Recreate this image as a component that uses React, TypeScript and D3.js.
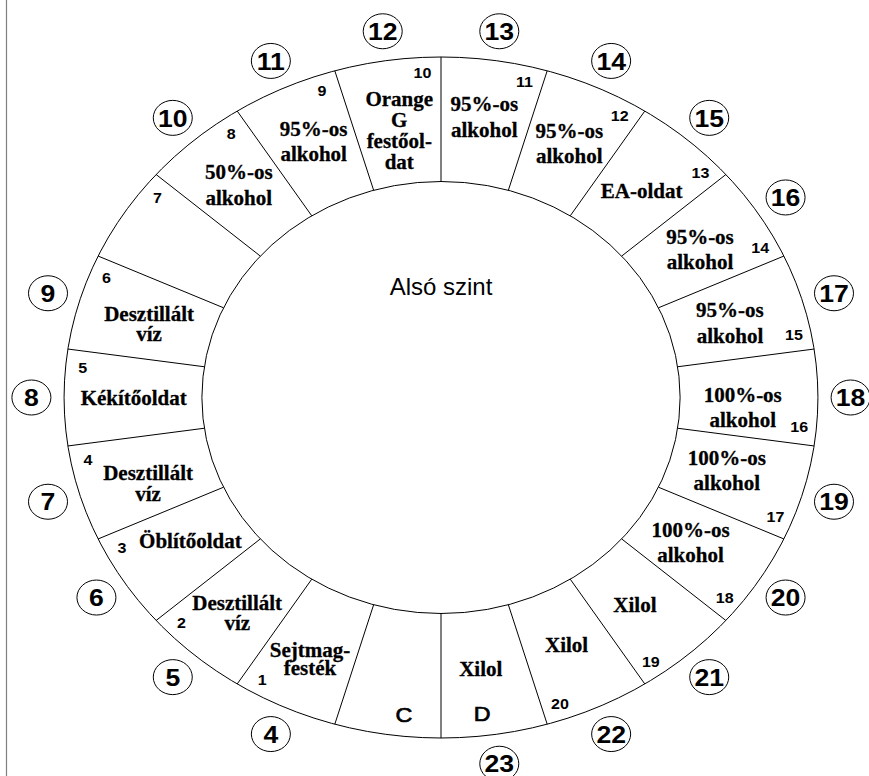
import React from 'react';
import * as d3 from 'd3';

// ---------- data ----------
// Segments clockwise from the top vertical line
const reagents: string[] = [
  '95%-os\nalkohol',
  '95%-os\nalkohol',
  'EA-oldat',
  '95%-os\nalkohol',
  '95%-os\nalkohol',
  '100%-os\nalkohol',
  '100%-os\nalkohol',
  '100%-os\nalkohol',
  'Xilol',
  'Xilol',
  'Xilol',
  '',
  'Sejtmag-\nfesték',
  'Desztillált\nvíz',
  'Öblítőoldat',
  'Desztillált\nvíz',
  'Kékítőoldat',
  'Desztillált\nvíz',
  '',
  '50%-os\nalkohol',
  '95%-os\nalkohol',
  'Orange\nG\nfestőol-\ndat',
];
const stationNumbers: string[] = [
  '11', '12', '13', '14', '15', '16', '17', '18', '19', '20', '', '',
  '1', '2', '3', '4', '5', '6', '7', '8', '9', '10',
];
const stationLetters: string[] = [
  '', '', '', '', '', '', '', '', '', '', 'D', 'C',
  '', '', '', '', '', '', '', '', '', '',
];
const positionNumbers: string[] = [
  '13', '14', '15', '16', '17', '18', '19', '20', '21', '22', '23', '',
  '4', '5', '6', '7', '8', '9', '', '10', '11', '12',
];
const centerTitle = 'Alsó szint';

// ---------- layout ----------
const W = 869;
const H = 776;
const CX = 441;
const CY = 397.5;
const KX = 1.107;
const R_OUT = 340.5;
const R_IN = 216;
const R_NUM = 325;
const R_CIRCLE = 370;
const NUM_OFFSET = 0.82;
// [segment position, radius, line height] of the first baseline of each label
const labelLayout: [number, number, number][] = [
  [0.475, 289.2, 25.7],
  [1.47, 284.2, 25],
  [2.58, 269.8, 0],
  [3.465, 279.9, 25.3],
  [4.455, 273.1, 26],
  [5.56, 272.6, 24.6],
  [6.4, 267, 25],
  [7.44, 265.1, 25],
  [8.6, 276.7, 0],
  [9.53, 278.4, 0],
  [10.55, 280.5, 0],
  [11.5, 280, 0],
  [12.5, 284.9, 18.5],
  [13.5, 281.1, 20.5],
  [14.45, 271.6, 0],
  [15.44, 277.2, 20.7],
  [16.4, 277.7, 0],
  [17.49, 274.6, 20.5],
  [18.5, 280, 0],
  [19.56, 284.6, 25.7],
  [20.55, 285.8, 25],
  [21.55, 294, 21],
];
const letterLayout: [number, number][] = stationLetters.map((l, i) =>
  i === 10 ? [10.6, 325.3] : i === 11 ? [11.36, 325.9] : [i + 0.5, 325]
);

const N = reagents.length;
const angle = d3.scaleLinear().domain([0, N]).range([0, 2 * Math.PI]);
const pos = (s: number, r: number): [number, number] => [
  CX + KX * r * Math.sin(angle(s)),
  CY - r * Math.cos(angle(s)),
];

const SERIF = '"Liberation Serif", "Times New Roman", Times, serif';
const SANS = '"Liberation Sans", Arial, Helvetica, sans-serif';

export default function App() {
  const idx = d3.range(N);
  return (
    <svg
      width={W}
      height={H}
      viewBox={`0 0 ${W} ${H}`}
      style={{ position: 'absolute', left: 0, top: 0, background: '#fff' }}
    >
      <rect x={0} y={0} width={W} height={H} fill="#fff" />
      <line x1={6.5} y1={0} x2={6.5} y2={H} stroke="#808080" strokeWidth={1.2} />

      {/* ring */}
      <ellipse cx={CX} cy={CY} rx={R_OUT * KX} ry={R_OUT} fill="none" stroke="#000" strokeWidth={1} />
      <ellipse cx={CX} cy={CY} rx={R_IN * KX} ry={R_IN} fill="none" stroke="#000" strokeWidth={1} />
      {idx.map((k) => {
        const [x1, y1] = pos(k, R_IN);
        const [x2, y2] = pos(k, R_OUT);
        return <line key={`l${k}`} x1={x1} y1={y1} x2={x2} y2={y2} stroke="#000" strokeWidth={1} />;
      })}

      {/* reagent labels */}
      {idx.map((k) => {
        if (!reagents[k]) return null;
        const [s, r, lh] = labelLayout[k];
        const [x, y] = pos(s, r);
        const lines = reagents[k].split('\n');
        return (
          <text
            key={`t${k}`}
            x={x}
            y={y}
            textAnchor="middle"
            fontFamily={SERIF}
            fontWeight="bold"
            fontSize={21}
            fill="#000"
            stroke="#000"
            strokeWidth={0.3}
          >
            {lines.map((ln, j) => (
              <tspan key={j} x={x} y={y + j * lh}>
                {ln}
              </tspan>
            ))}
          </text>
        );
      })}

      {/* station numbers */}
      {idx.map((k) => {
        if (!stationNumbers[k]) return null;
        const [x, y] = pos(k + NUM_OFFSET, R_NUM);
        return (
          <text
            key={`n${k}`}
            transform={`translate(${x},${y}) scale(${KX},1)`}
            dy="0.36em"
            textAnchor="middle"
            fontFamily={SANS}
            fontWeight="bold"
            fontSize={14.5}
            fill="#000"
          >
            {stationNumbers[k]}
          </text>
        );
      })}

      {/* letters C / D */}
      {idx.map((k) => {
        if (!stationLetters[k]) return null;
        const [s, r] = letterLayout[k];
        const [x, y] = pos(s, r);
        return (
          <text
            key={`c${k}`}
            transform={`translate(${x},${y}) scale(${KX},1)`}
            textAnchor="middle"
            fontFamily={SANS}
            fontSize={21}
            fill="#000"
            stroke="#000"
            strokeWidth={0.7}
          >
            {stationLetters[k]}
          </text>
        );
      })}

      {/* circled position numbers */}
      {idx.map((k) => {
        if (!positionNumbers[k]) return null;
        const [x, y] = pos(k + 0.5, R_CIRCLE);
        return (
          <g key={`p${k}`}>
            <ellipse cx={x} cy={y} rx={19.5} ry={17.5} fill="#fff" stroke="#000" strokeWidth={1} />
            <text
              transform={`translate(${x},${y}) scale(${KX},1)`}
              dy="0.36em"
              textAnchor="middle"
              fontFamily={SANS}
              fontWeight="bold"
              fontSize={24}
              fill="#000"
            >
              {positionNumbers[k]}
            </text>
          </g>
        );
      })}

      <text x={CX} y={295} textAnchor="middle" fontFamily={SANS} fontSize={24} fill="#000">
        {centerTitle}
      </text>
    </svg>
  );
}
